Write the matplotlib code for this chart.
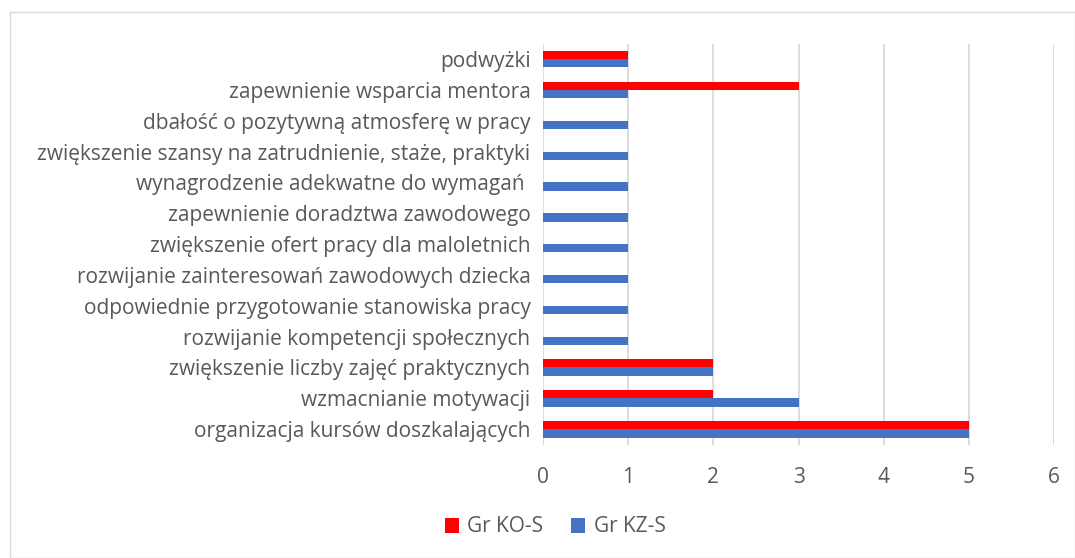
import numpy as np
import matplotlib.pyplot as plt
from matplotlib.patches import Rectangle

categories = [
    "organizacja kursów doszkalających",
    "wzmacnianie motywacji",
    "zwiększenie liczby zajęć praktycznych",
    "rozwijanie kompetencji społecznych",
    "odpowiednie przygotowanie stanowiska pracy",
    "rozwijanie zainteresowań zawodowych dziecka",
    "zwiększenie ofert pracy dla maloletnich",
    "zapewnienie doradztwa zawodowego",
    "wynagrodzenie adekwatne do wymagań ",
    "zwiększenie szansy na zatrudnienie, staże, praktyki",
    "dbałość o pozytywną atmosferę w pracy",
    "zapewnienie wsparcia mentora",
    "podwyżki",
]
ko_s = [5, 2, 2, 0, 0, 0, 0, 0, 0, 0, 0, 3, 1]
kz_s = [5, 3, 2, 1, 1, 1, 1, 1, 1, 1, 1, 1, 1]
series_names = ["Gr KO-S", "Gr KZ-S"]
xticks = [0, 1, 2, 3, 4, 5, 6]

plt.rcParams['font.family'] = ['Open Sans', 'DejaVu Sans']
txt = '#595959'
fs = 15

fig = plt.figure(figsize=(10.75, 5.58), dpi=100)
fig.patches.append(Rectangle((10/1075, 0), 1 - 10/1075, 1 - 12/558, transform=fig.transFigure,
                             fill=False, edgecolor='#d9d9d9', linewidth=1))
ax = fig.add_axes([543/1075, 1 - 444.6/558, (1054 - 543)/1075, (444.6 - 43.6)/558])

y = np.arange(len(categories))
h = 0.27
ax.barh(y + h/2, ko_s, height=h, color='#ff0000', label=series_names[0], zorder=3)
ax.barh(y - h/2, kz_s, height=h, color='#4472c4', label=series_names[1], zorder=3)

ax.set_ylim(-0.5, len(categories) - 0.5)
ax.set_xlim(0, 6)
ax.set_xticks(xticks)
ax.set_yticks(y)
ax.set_yticklabels(categories)
ax.tick_params(axis='both', length=0, colors=txt, labelsize=fs)
ax.tick_params(axis='x', pad=16)
ax.tick_params(axis='y', pad=9)
ax.grid(axis='x', color='#d9d9d9', linewidth=1.3, zorder=0)
for s in ax.spines.values():
    s.set_visible(False)

leg = fig.legend(loc='center', bbox_to_anchor=(555/1075, 1 - 527/558), ncol=2, frameon=False,
                 fontsize=fs, handlelength=0.7, handleheight=0.7, columnspacing=1.3, handletextpad=0.4)
for t in leg.get_texts():
    t.set_color(txt)

fig.savefig('out.png', dpi=100)
